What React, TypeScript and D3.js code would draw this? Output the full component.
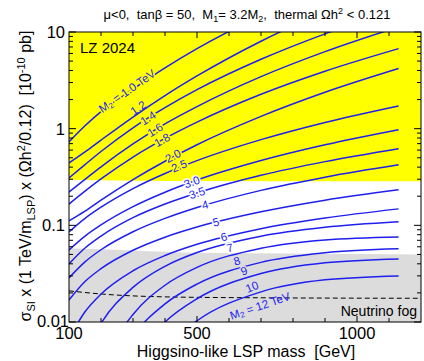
import React from 'react';
import * as d3 from 'd3';

// ---------- data ----------
const masses = [100, 150, 200, 300, 400, 500, 700, 900, 1130];

const m2_10 = [0.729, 1.07, 1.5, 2.56, 4.25, 6.72, 14.8, 28.7, 58];
const m2_12 = [0.442, 0.575, 0.762, 1.32, 2.2, 3.51, 8.03, 16.2, 31.8];
const m2_14 = [0.309, 0.425, 0.58, 1.02, 1.65, 2.53, 5.22, 9.57, 17.4];
const m2_16 = [0.221, 0.299, 0.403, 0.695, 1.12, 1.69, 3.45, 6.26, 11.3];
const m2_18 = [0.166, 0.226, 0.302, 0.509, 0.794, 1.17, 2.27, 3.93, 6.73];
const m2_20 = [0.111, 0.14, 0.182, 0.297, 0.46, 0.682, 1.34, 2.38, 4.19];
const m2_25 = [0.0855, 0.118, 0.154, 0.24, 0.344, 0.467, 0.77, 1.16, 1.72];
const m2_30 = [0.0556, 0.0774, 0.101, 0.156, 0.22, 0.294, 0.468, 0.681, 0.976];
const m2_35 = [0.0399, 0.0582, 0.0775, 0.12, 0.166, 0.216, 0.329, 0.456, 0.621];
const m2_40 = [0.0286, 0.0419, 0.0559, 0.0859, 0.118, 0.153, 0.23, 0.315, 0.423];
const m2_50 = [0.0169, 0.0262, 0.0356, 0.0552, 0.0754, 0.096, 0.138, 0.182, 0.233];
const m2_60 = [0.00675, 0.01275, 0.01946, 0.0339, 0.0487, 0.0636, 0.0923, 0.119, 0.148];
const m2_70 = [0.00146, 0.0047, 0.00966, 0.0228, 0.0377, 0.0523, 0.0772, 0.0953, 0.1087];
const m2_80 = [0.00019, 0.00116, 0.00342, 0.01198, 0.024, 0.0367, 0.0579, 0.0706, 0.0759];
const m2_90 = [0.00008, 0.00055, 0.00181, 0.00716, 0.01539, 0.0247, 0.0414, 0.052, 0.0571];
const m2_100 = [0.000018, 0.00019, 0.00079, 0.00405, 0.01, 0.0174, 0.0317, 0.0409, 0.0449];
const m2_120 = [0.000003, 0.000051, 0.00027, 0.00187, 0.0054, 0.0103, 0.0205, 0.0273, 0.03];

const curveLabels = ['1.0', '1.2', '1.4', '1.6', '1.8', '2.0', '2.5', '3.0', '3.5', '4', '5', '6', '7', '8', '9', '10', '12'];
const curveValues = [m2_10, m2_12, m2_14, m2_16, m2_18, m2_20, m2_25, m2_30, m2_35, m2_40, m2_50, m2_60, m2_70, m2_80, m2_90, m2_100, m2_120];

// where each curve label sits (LSP mass, cross-section)
const labelMass = [281, 316, 347, 369, 391, 425, 444, 484, 500, 525, 559, 584, 603, 625, 647, 672, 697];
const labelValue = [2.45, 1.64, 1.29, 0.97, 0.764, 0.522, 0.411, 0.281, 0.216, 0.163, 0.108, 0.0759, 0.0584, 0.0428, 0.0338, 0.0231, 0.0147];

// LZ 2024 excluded region (yellow): lower edge
const lzMass = [100, 400, 1200];
const lzLower = [0.296, 0.287, 0.285];
// neutrino fog (grey) upper edge
const fogMass = [100, 300, 500, 800, 1200];
const fogUpper = [0.058, 0.055, 0.052, 0.051, 0.05];
// dashed neutrino floor line
const floorMass = [100, 200, 400, 700, 1200];
const floorVal = [0.021, 0.0195, 0.0182, 0.0178, 0.0176];

const xTickLabels = [100, 500, 1000];
const yTickLabels = [0.01, 0.1, 1, 10];

// ---------- layout ----------
const W = 424;
const H = 361;
const L = 69, R = 421, T = 32, B = 322;
const BLUE = '#1f1fef';
const FONT = "'Liberation Sans', Arial, Helvetica, sans-serif";

const x = d3.scaleLinear().domain([100, 1200]).range([L, R]);
const y = d3.scaleLog().domain([0.01, 10]).range([B, T]);

function interpLog(ms: number[], vs: number[], m: number): number {
  for (let i = 0; i < ms.length - 1; i++) {
    if (m >= ms[i] && m <= ms[i + 1]) {
      const t = (m - ms[i]) / (ms[i + 1] - ms[i]);
      return Math.pow(10, Math.log10(vs[i]) * (1 - t) + Math.log10(vs[i + 1]) * t);
    }
  }
  return vs[vs.length - 1];
}

export default function App() {
  const line = d3
    .line<number>()
    .x((_, i) => x(masses[i]))
    .y((d) => y(d))
    .curve(d3.curveMonotoneX);

  const yellowArea = d3
    .area<number>()
    .x((_, i) => x(lzMass[i]))
    .y0(() => y(10))
    .y1((d) => y(d))
    .curve(d3.curveMonotoneX);

  const greyArea = d3
    .area<number>()
    .x((_, i) => x(fogMass[i]))
    .y0((d) => y(d))
    .y1(() => y(0.01))
    .curve(d3.curveMonotoneX);

  const floorLine = d3
    .line<number>()
    .x((_, i) => x(floorMass[i]))
    .y((d) => y(d))
    .curve(d3.curveMonotoneX);

  const yMinor: number[] = [];
  [0.01, 0.1, 1].forEach((dec) => {
    for (let k = 2; k <= 9; k++) yMinor.push(dec * k);
  });
  const xTicks: number[] = [];
  for (let m = 200; m <= 1100; m += 100) xTicks.push(m);

  return (
    <svg
      width={W}
      height={H}
      style={{ position: 'absolute', left: 0, top: 0, background: '#fff' }}
      fontFamily={FONT}
    >
      <defs>
        <clipPath id="plotclip">
          <rect x={L} y={T} width={R - L} height={B - T} />
        </clipPath>
      </defs>

      <g clipPath="url(#plotclip)">
        <path d={yellowArea(lzLower) || ''} fill="#ffff00" />
        <path d={greyArea(fogUpper) || ''} fill="#dcdcdc" />
        <path d={floorLine(floorVal) || ''} fill="none" stroke="#000" strokeWidth={1} strokeDasharray="5,3" />
        {curveValues.map((vals, k) => (
          <path key={k} d={line(vals) || ''} fill="none" stroke={BLUE} strokeWidth={1.5} />
        ))}
        {curveValues.map((vals, k) => {
          const m = labelMass[k];
          const v = labelValue[k];
          const px = x(m);
          const py = y(v);
          const onCurve = Math.abs(y(interpLog(masses, vals, m)) - py) < 5;
          const p1 = [x(m - 20), y(interpLog(masses, vals, m - 20))];
          const p2 = [x(m + 20), y(interpLog(masses, vals, m + 20))];
          const ang = (Math.atan2(p2[1] - p1[1], p2[0] - p1[0]) * 180) / Math.PI;
          const yl = interpLog(lzMass, lzLower, m);
          const gt = interpLog(fogMass, fogUpper, m);
          const bg = v > yl ? '#ffff00' : v > gt ? '#ffffff' : '#dcdcdc';
          const full = k === 0 || k === curveLabels.length - 1;
          return (
            <text
              key={'l' + k}
              transform={`translate(${px},${py}) rotate(${ang})`}
              textAnchor="middle"
              dominantBaseline="central"
              fontSize={11.5}
              fill={BLUE}
              stroke={onCurve ? bg : 'none'}
              strokeWidth={3}
              paintOrder="stroke"
              style={{ whiteSpace: 'pre' }}
            >
              {full ? (
                <>
                  <tspan>M</tspan>
                  <tspan dy={2.5} fontSize={8}>2</tspan>
                  <tspan dy={-2.5}>{` = ${curveLabels[k]} TeV`}</tspan>
                </>
              ) : (
                curveLabels[k]
              )}
            </text>
          );
        })}
      </g>

      {/* frame */}
      <rect x={L} y={T} width={R - L} height={B - T} fill="none" stroke="#000" strokeWidth={1} />

      {/* y ticks */}
      {yTickLabels.map((v) => (
        <g key={'ym' + v}>
          <line x1={L} x2={L + 7} y1={y(v)} y2={y(v)} stroke="#000" />
          <line x1={R - 7} x2={R} y1={y(v)} y2={y(v)} stroke="#000" />
        </g>
      ))}
      {yMinor.map((v) => (
        <g key={'yn' + v}>
          <line x1={L} x2={L + 4} y1={y(v)} y2={y(v)} stroke="#000" />
          <line x1={R - 4} x2={R} y1={y(v)} y2={y(v)} stroke="#000" />
        </g>
      ))}
      {xTicks.map((m) => {
        const len = m % 500 === 0 ? 6 : 4;
        return (
          <g key={'xt' + m}>
            <line x1={x(m)} x2={x(m)} y1={B} y2={B - len} stroke="#000" />
            <line x1={x(m)} x2={x(m)} y1={T} y2={T + len} stroke="#000" />
          </g>
        );
      })}

      {/* tick labels */}
      {yTickLabels.map((v) => (
        <text
          key={'yl' + v}
          x={v === 0.01 ? 69 : 65}
          y={v === 0.01 ? y(v) - 1 : y(v)}
          textAnchor="end"
          dominantBaseline="central"
          fontSize={16.5}
          fill="#000"
        >
          {String(v)}
        </text>
      ))}
      {xTickLabels.map((m) => (
        <text key={'xl' + m} x={x(m)} y={339} textAnchor="middle" fontSize={16.5} fill="#000">
          {String(m)}
        </text>
      ))}

      {/* axis titles */}
      <text x={246} y={357} textAnchor="middle" fontSize={16} fill="#000" style={{ whiteSpace: 'pre' }}>
        {'Higgsino-like LSP mass  [GeV]'}
      </text>
      <text
        transform="translate(31,176) rotate(-90)"
        textAnchor="middle"
        fontSize={16}
        fill="#000"
        style={{ whiteSpace: 'pre' }}
      >
        <tspan>σ</tspan>
        <tspan dy={4} fontSize={11}>SI</tspan>
        <tspan dy={-4}>{' x (1 TeV/m'}</tspan>
        <tspan dy={4} fontSize={11}>LSP</tspan>
        <tspan dy={-4}>{') x (Ωh'}</tspan>
        <tspan dy={-6} fontSize={11}>2</tspan>
        <tspan dy={6}>{'/0.12)  [10'}</tspan>
        <tspan dy={-6} fontSize={11}>-10</tspan>
        <tspan dy={6}>{' pb]'}</tspan>
      </text>

      {/* title */}
      <text x={247} y={19} textAnchor="middle" fontSize={13} fill="#000" style={{ whiteSpace: 'pre' }}>
        <tspan>{'μ<0,  tanβ = 50,  M'}</tspan>
        <tspan dy={3} fontSize={9}>1</tspan>
        <tspan dy={-3}>{'= 3.2M'}</tspan>
        <tspan dy={3} fontSize={9}>2</tspan>
        <tspan dy={-3}>{',  thermal Ωh'}</tspan>
        <tspan dy={-5} fontSize={9}>2</tspan>
        <tspan dy={5}>{' < 0.121'}</tspan>
      </text>

      {/* annotations */}
      <text x={80} y={53} fontSize={15} fill="#000">LZ 2024</text>
      <text x={417} y={316} textAnchor="end" fontSize={14} fill="#000">Neutrino fog</text>
    </svg>
  );
}
